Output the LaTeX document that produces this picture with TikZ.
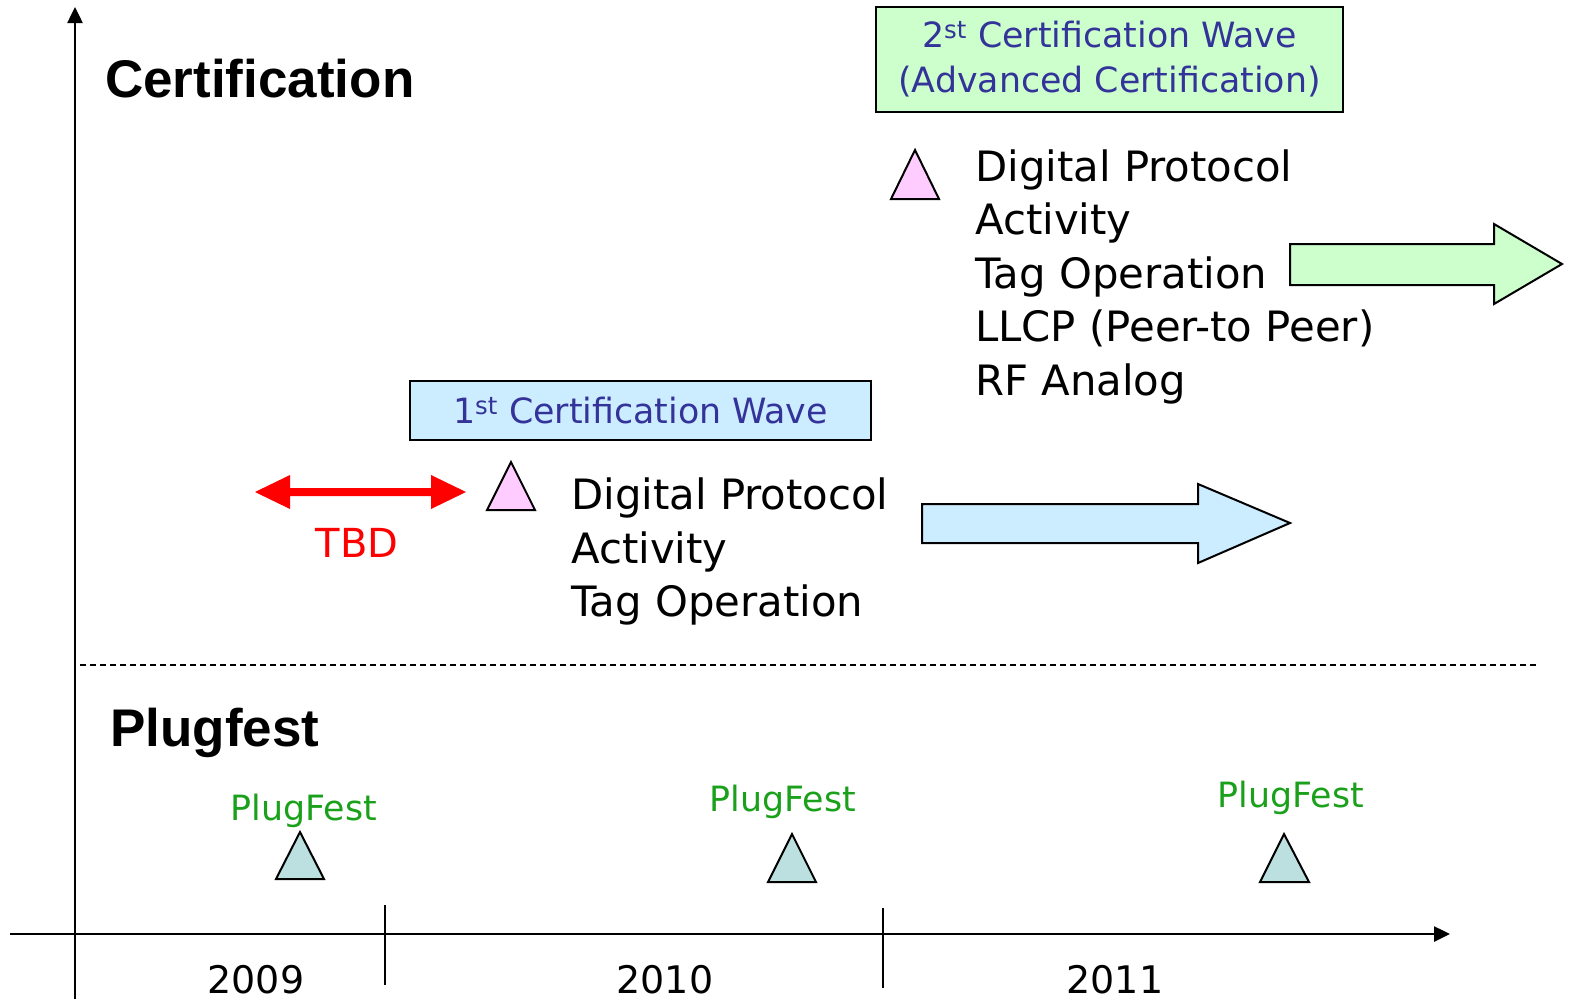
\documentclass[tikz,border=0pt]{standalone}
\usepackage{fontspec}
\setmainfont{DejaVu Sans}
\newfontfamily\titlefont{Liberation Sans}
\usetikzlibrary{arrows.meta}
\definecolor{boxtext}{RGB}{51,51,153}
\definecolor{pinkfill}{RGB}{255,204,255}
\definecolor{tealfill}{RGB}{188,224,224}
\definecolor{bluefill}{RGB}{204,236,255}
\definecolor{greenfill}{RGB}{204,255,204}
\definecolor{plugcol}{RGB}{26,160,26}
\definecolor{tbdred}{RGB}{255,0,0}
\begin{document}
\begin{tikzpicture}[x=1pt,y=-1pt,
  lbl/.style={inner sep=0pt, anchor=base west, font=\fontsize{41.8}{50}\selectfont},
  yearlbl/.style={inner sep=0pt, anchor=base, font=\fontsize{38}{45}\selectfont},
  pluglbl/.style={inner sep=0pt, anchor=base, text=plugcol, font=\fontsize{34.8}{42}\selectfont},
  titlelbl/.style={inner sep=0pt, anchor=base west, font=\fontsize{53}{60}\selectfont\titlefont\bfseries},
  wavebox/.style={draw=black, line width=2pt, inner sep=0pt, text=boxtext, align=center, font=\fontsize{34.8}{45}\selectfont},
  tri/.style={draw=black, line width=2pt, line join=miter},
  axis/.style={draw=black, line width=2.5pt, -{Triangle[length=16pt,width=15pt]}},
  tick/.style={draw=black, line width=2pt},
  blockarrow/.style={draw=black, line width=2pt, line join=miter}
]
\useasboundingbox (0,0) rectangle (1570,999);

% axes
\coordinate (yb) at (75,999);
\coordinate (yt) at (75,7);
\coordinate (xl) at (10,934);
\coordinate (xr) at (1450,934);
\draw[axis] (yb) -- (yt);
\draw[axis] (xl) -- (xr);
\coordinate (t1a) at (385,905);
\coordinate (t1b) at (385,985);
\coordinate (t2a) at (883,908);
\coordinate (t2b) at (883,988);
\draw[tick] (t1a) -- (t1b);
\draw[tick] (t2a) -- (t2b);

% years
\node[yearlbl] (y2009) at (256,993) {2009};
\node[yearlbl] (y2010) at (665,993) {2010};
\node[yearlbl] (y2011) at (1115,993) {2011};

% dashed separator
\coordinate (dl) at (80,665);
\coordinate (dr) at (1538,665);
\draw[line width=1.5pt, dash pattern=on 6pt off 4pt] (dl) -- (dr);

% titles
\node[titlelbl] (cert) at (105,97) {Certification};
\node[titlelbl] (plug) at (110,746) {Plugfest};

% wave boxes
\node[wavebox, fill=greenfill, minimum width=467pt, minimum height=105pt] (wave2) at (1109.5,59.5)
  {2\textsuperscript{st} Certification Wave\\(Advanced Certification)};
\node[wavebox, fill=bluefill, minimum width=461pt, minimum height=59pt] (wave1) at (640.5,410.5)
  {1\textsuperscript{st} Certification Wave};

% upper group
\draw[tri, fill=pinkfill] (915,150) -- (891,199) -- (939,199) -- cycle;
\node[lbl] (u1) at (975,181) {Digital Protocol};
\node[lbl] (u2) at (975,234.5) {Activity};
\node[lbl] (u3) at (975,288) {Tag Operation};
\node[lbl] (u4) at (975,341.5) {LLCP (Peer-to Peer)};
\node[lbl] (u5) at (975,395) {RF Analog};
\draw[blockarrow, fill=greenfill] (1290,244) -- (1494,244) -- (1494,224) -- (1562,264) -- (1494,304) -- (1494,285) -- (1290,285) -- cycle;

% lower group
\draw[tri, fill=pinkfill] (511,462) -- (487,510) -- (535,510) -- cycle;
\node[lbl] (l1) at (571,509) {Digital Protocol};
\node[lbl] (l2) at (571,563) {Activity};
\node[lbl] (l3) at (571,616) {Tag Operation};
\draw[blockarrow, fill=bluefill] (922,504) -- (1198,504) -- (1198,484) -- (1290,523) -- (1198,563) -- (1198,543) -- (922,543) -- cycle;

% TBD double arrow
\fill[tbdred] (255,492) -- (290,475) -- (290,488) -- (431,488) -- (431,475) -- (466,492) -- (431,509) -- (431,496) -- (290,496) -- (290,509) -- cycle;
\node[inner sep=0pt, anchor=base, text=tbdred, font=\fontsize{40}{48}\selectfont] (tbd) at (357,557) {TBD};

% plugfests
\node[pluglbl] (p1) at (304,820) {PlugFest};
\node[pluglbl] (p2) at (783,811) {PlugFest};
\node[pluglbl] (p3) at (1291,807) {PlugFest};
\draw[tri, fill=tealfill] (300,832) -- (276,879) -- (324,879) -- cycle;
\draw[tri, fill=tealfill] (792,834) -- (768,882) -- (816,882) -- cycle;
\draw[tri, fill=tealfill] (1284,834) -- (1260,882) -- (1309,882) -- cycle;
\end{tikzpicture}
\end{document}
